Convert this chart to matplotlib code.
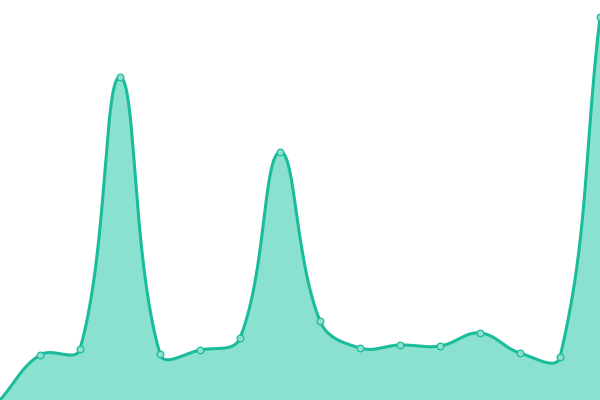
import numpy as np
import matplotlib
matplotlib.use('Agg')
import matplotlib.pyplot as plt

# data
labels = list(range(16))
values = [0, 45, 51, 323, 46, 50, 62, 248, 79, 52, 55, 54, 67, 47, 43, 383]

line_color = '#1abc9c'
fill_color = '#8be1d0'
tension = 0.4

fig = plt.figure(figsize=(6, 4), dpi=100)
ax = fig.add_axes([0, 0, 1, 1])
ax.set_xlim(0, len(labels) - 1)
ax.set_ylim(0, 400)
ax.axis('off')

# spline in display space (same as a tension based bezier)
pts = ax.transData.transform(np.column_stack([labels, values]))
n = len(pts)
x0, y0 = ax.transData.transform((0, 0))
x1, y1 = ax.transData.transform((len(labels) - 1, 400))

cp_prev = np.zeros_like(pts)
cp_next = np.zeros_like(pts)
for i in range(n):
    cur = pts[i]
    prev = pts[i - 1] if i > 0 else cur
    nxt = pts[i + 1] if i < n - 1 else cur
    d01 = np.hypot(*(cur - prev))
    d12 = np.hypot(*(nxt - cur))
    s01 = d01 / (d01 + d12) if d01 + d12 > 0 else 0
    s12 = d12 / (d01 + d12) if d01 + d12 > 0 else 0
    cp_prev[i] = cur - tension * s01 * (nxt - prev)
    cp_next[i] = cur + tension * s12 * (nxt - prev)

cp_prev[:, 0] = np.clip(cp_prev[:, 0], x0, x1)
cp_prev[:, 1] = np.clip(cp_prev[:, 1], y0, y1)
cp_next[:, 0] = np.clip(cp_next[:, 0], x0, x1)
cp_next[:, 1] = np.clip(cp_next[:, 1], y0, y1)

t = np.linspace(0, 1, 60)[:, None]
curve = []
for i in range(n - 1):
    p0, p1, p2, p3 = pts[i], cp_next[i], cp_prev[i + 1], pts[i + 1]
    seg = ((1 - t) ** 3) * p0 + 3 * ((1 - t) ** 2) * t * p1 + 3 * (1 - t) * t ** 2 * p2 + t ** 3 * p3
    curve.append(seg if i == 0 else seg[1:])
curve = np.vstack(curve)
curve = ax.transData.inverted().transform(curve)

poly_x = np.concatenate([curve[:, 0], [curve[-1, 0], curve[0, 0]]])
poly_y = np.concatenate([curve[:, 1], [0, 0]])
ax.fill(poly_x, poly_y, color=fill_color, lw=0, zorder=1)
ax.plot(curve[:, 0], curve[:, 1], color=line_color, lw=2.2, zorder=2, solid_capstyle='round')
# first point sits on the bottom edge, its marker is not shown
ax.plot(labels[1:], values[1:], 'o', ms=4.8, mfc=fill_color, mec=line_color, mew=0.9, zorder=3)

fig.savefig('out.png', dpi=100)
